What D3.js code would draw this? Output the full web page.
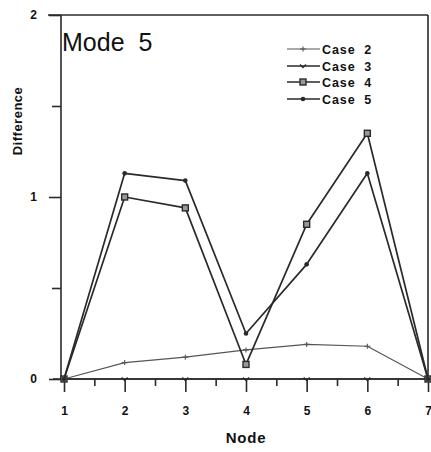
<!DOCTYPE html>
<html>
<head>
<meta charset="utf-8">
<script src="https://cdn.jsdelivr.net/npm/d3@7"></script>
<style>
  html, body { margin: 0; padding: 0; background: #fff; }
  svg { display: block; }
  text { font-family: "Liberation Sans", Arial, sans-serif; fill: #111; }
</style>
</head>
<body>
<svg id="chart" width="431" height="452"></svg>
<script>
// Mode 5 nodal differences for each load case
const nodes = [1, 2, 3, 4, 5, 6, 7];
const case2 = [0, 0.09, 0.12, 0.16, 0.19, 0.18, 0];
const case3 = [0, 0, 0, 0, 0, 0, 0];
const case4 = [0, 1.0, 0.94, 0.08, 0.85, 1.35, 0];
const case5 = [0, 1.13, 1.09, 0.25, 0.63, 1.13, 0];
const seriesNames = ["Case  2", "Case  3", "Case  4", "Case  5"];
const yMajorTicks = [0, 1, 2];
const yMinorTicks = [0.5, 1.5];
const xMinorTicks = [1.5, 2.5, 3.5, 4.5, 5.5, 6.5];

const svg = d3.select("#chart");
const ink = "#2a2a2a";

const x = d3.scaleLinear().domain([1, 7]).range([64, 428]);
const y = d3.scaleLinear().domain([0, 2]).range([379, 15]);

// frame: top and right edges
svg.append("line").attr("x1", 48).attr("x2", x(7)).attr("y1", y(2)).attr("y2", y(2))
  .attr("stroke", ink).attr("stroke-width", 1.6);
svg.append("line").attr("x1", x(7)).attr("x2", x(7)).attr("y1", y(2)).attr("y2", y(0))
  .attr("stroke", ink).attr("stroke-width", 1.6);

// x axis
const xAxis = svg.append("g").attr("transform", `translate(0,${y(0)})`)
  .call(d3.axisBottom(x).tickValues(nodes).tickSize(13).tickPadding(14).tickFormat(d3.format("d")));
svg.append("g").attr("transform", `translate(0,${y(0)})`)
  .call(d3.axisBottom(x).tickValues(xMinorTicks).tickSize(7).tickFormat(""))
  .select(".domain").remove();
xAxis.select(".domain").attr("d", `M53,0H${x(7)}`);

// y axis
const yAxis = svg.append("g").attr("transform", `translate(61,0)`)
  .call(d3.axisLeft(y).tickValues(yMajorTicks).tickSize(12).tickPadding(12).tickFormat(d3.format("d")));
svg.append("g").attr("transform", `translate(61,0)`)
  .call(d3.axisLeft(y).tickValues(yMinorTicks).tickSize(9).tickFormat(""))
  .select(".domain").remove();
yAxis.select(".domain").attr("d", `M0,${y(2)}V${y(0)}`);

svg.selectAll(".tick line, .domain").attr("stroke", ink).attr("stroke-width", 1.6);
svg.selectAll(".tick text").attr("font-size", 12).attr("font-weight", "bold")
  .attr("fill", "#111").attr("font-family", "Liberation Sans, Arial, sans-serif");

// axis titles
svg.append("text").attr("x", x(4)).attr("y", 443).attr("text-anchor", "middle")
  .attr("font-size", 15).attr("font-weight", "bold").attr("letter-spacing", 0.8).text("Node");
svg.append("text").attr("transform", "translate(22,121) rotate(-90)").attr("text-anchor", "middle")
  .attr("font-size", 13).attr("font-weight", "bold").attr("letter-spacing", 0.5).text("Difference");

// panel title
svg.append("text").attr("x", 62).attr("y", 51).attr("font-size", 25)
  .attr("xml:space", "preserve").style("white-space", "pre").text("Mode  5");

const line = d3.line().x((d, i) => x(nodes[i])).y(d => y(d));

const series = [
  { name: seriesNames[0], values: case2, width: 1.1, color: "#555", marker: "plus" },
  { name: seriesNames[1], values: case3, width: 1.6, color: ink, marker: "vee" },
  { name: seriesNames[2], values: case4, width: 1.7, color: ink, marker: "square" },
  { name: seriesNames[3], values: case5, width: 1.7, color: ink, marker: "dot" }
];

function drawMarker(g, kind, cx, cy, color) {
  if (kind === "plus") {
    g.append("path").attr("d", `M${cx - 3},${cy}H${cx + 3}M${cx},${cy - 2.5}V${cy + 2.5}`)
      .attr("stroke", color).attr("stroke-width", 1.1).attr("fill", "none");
  } else if (kind === "vee") {
    g.append("path").attr("d", `M${cx - 3},${cy - 1.5}L${cx},${cy + 1.5}L${cx + 3},${cy - 1.5}`)
      .attr("stroke", color).attr("stroke-width", 1.3).attr("fill", "none");
  } else if (kind === "square") {
    g.append("rect").attr("x", cx - 3).attr("y", cy - 3).attr("width", 6).attr("height", 6)
      .attr("stroke", color).attr("stroke-width", 1.4).attr("fill", "#999");
  } else {
    g.append("circle").attr("cx", cx).attr("cy", cy).attr("r", 2.3).attr("fill", color);
  }
}

series.forEach(s => {
  svg.append("path").datum(s.values).attr("d", line)
    .attr("fill", "none").attr("stroke", s.color).attr("stroke-width", s.width)
    .attr("stroke-linejoin", "round");
  const g = svg.append("g");
  s.values.forEach((v, i) => drawMarker(g, s.marker, x(nodes[i]), y(v), s.color));
});

// legend
const legend = svg.append("g");
const legendRows = [49, 66, 82, 99];
series.forEach((s, i) => {
  const ly = legendRows[i];
  legend.append("line").attr("x1", 287).attr("x2", 320).attr("y1", ly).attr("y2", ly)
    .attr("stroke", s.color).attr("stroke-width", s.width);
  drawMarker(legend, s.marker, 303, ly, s.color);
  legend.append("text").attr("x", 322).attr("y", ly + 4.5).attr("font-size", 12.5)
    .attr("font-weight", "bold").attr("letter-spacing", 0.9)
    .attr("xml:space", "preserve").style("white-space", "pre").text(s.name);
});
</script>
</body>
</html>
